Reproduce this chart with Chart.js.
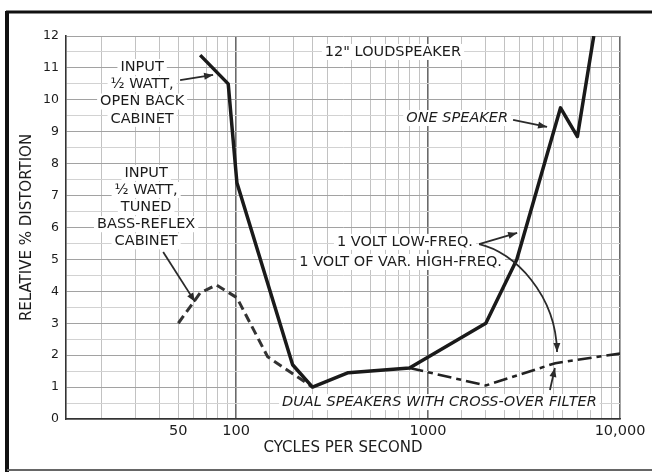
<!DOCTYPE html>
<html>
<head>
<meta charset="utf-8">
<script src="https://cdn.jsdelivr.net/npm/chart.js@4.4.0/dist/chart.umd.min.js"></script>
<style>
  html, body { margin: 0; padding: 0; background: #fff; }
</style>
</head>
<body>
<canvas id="myChart" width="652" height="472"></canvas>
<script>
// one speaker, 1/2 watt input, open back cabinet
var openBackHz  = [65, 91, 101, 197, 250, 384, 800, 2000, 2900, 4900, 6000, 7300];
var openBackPct = [11.4, 10.5, 7.4, 1.7, 1.0, 1.45, 1.6, 3.0, 5.0, 9.75, 8.85, 12];
// 1/2 watt input, tuned bass-reflex cabinet
var reflexHz  = [50, 65, 79, 101, 146, 250];
var reflexPct = [3.0, 3.95, 4.2, 3.8, 1.95, 1.0];
// dual speakers with cross-over filter
var dualHz  = [800, 2000, 4600, 10000];
var dualPct = [1.6, 1.05, 1.75, 2.05];

// graph paper lines and labelled ticks
var gridHz = [20, 30, 40, 50, 60, 70, 80, 90, 100, 150, 200, 250, 300, 400, 500, 600, 700, 800, 900,
              1000, 1500, 2000, 2500, 3000, 3500, 4000, 4500, 5000, 6000, 7000, 8000, 9000, 10000];
var decadeHz = [100, 1000, 10000];
var xTickHz = [50, 100, 1000, 10000];
var xTickLabels = ['50', '100', '1000', '10,000'];

var FONT = '"DejaVu Sans", sans-serif';
var INK = '#1c1c1c';

function pts(xs, ys) {
  return xs.map(function (x, i) { return { x: x, y: ys[i] }; });
}

function label(ctx, text, x, y, align, font) {
  ctx.font = font;
  var w = ctx.measureText(text).width;
  var x0 = align === 'left' ? x : (align === 'right' ? x - w : x - w / 2);
  ctx.fillStyle = '#fff';
  ctx.fillRect(x0 - 3, y - 8, w + 6, 16);
  ctx.fillStyle = INK;
  ctx.textAlign = 'left';
  ctx.textBaseline = 'middle';
  ctx.fillText(text, x0, y);
}

function head(ctx, fx, fy, tx, ty) {
  var a = Math.atan2(ty - fy, tx - fx);
  ctx.beginPath();
  ctx.moveTo(tx, ty);
  ctx.lineTo(tx - 9 * Math.cos(a) + 3.5 * Math.sin(a), ty - 9 * Math.sin(a) - 3.5 * Math.cos(a));
  ctx.lineTo(tx - 9 * Math.cos(a) - 3.5 * Math.sin(a), ty - 9 * Math.sin(a) + 3.5 * Math.cos(a));
  ctx.closePath();
  ctx.fill();
}

var notes = {
  id: 'notes',
  beforeDraw: function (chart) {
    var ctx = chart.ctx;
    ctx.save();
    ctx.fillStyle = '#fff';
    ctx.fillRect(0, 0, chart.width, chart.height);
    ctx.restore();
  },
  beforeDatasetsDraw: function (chart) {
    var ctx = chart.ctx, xs = chart.scales.x, ys = chart.scales.y;
    var X = function (v) { return xs.getPixelForValue(v); };
    var Y = function (v) { return ys.getPixelForValue(v); };
    var up = '14.5px ' + FONT, it = 'italic 14.5px ' + FONT;
    ctx.save();
    label(ctx, '12" LOUDSPEAKER', X(290), Y(11.5), 'left', up);

    var a = ['INPUT', '\u00BD WATT,', 'OPEN BACK', 'CABINET'];
    a.forEach(function (t, i) { label(ctx, t, X(32.4), Y(11.03) + i * 17.3, 'center', up); });
    var b = ['INPUT', '\u00BD WATT,', 'TUNED', 'BASS-REFLEX', 'CABINET'];
    b.forEach(function (t, i) { label(ctx, t, X(34), Y(7.71) + i * 17.1, 'center', up); });

    label(ctx, 'ONE SPEAKER', X(2611), Y(9.43), 'right', it);
    label(ctx, '1 VOLT LOW-FREQ.', X(1714), Y(5.55), 'right', up);
    label(ctx, '1 VOLT OF VAR. HIGH-FREQ.', X(2427), Y(4.92), 'right', up);
    label(ctx, 'DUAL SPEAKERS WITH CROSS-OVER FILTER', X(173.6), Y(0.53), 'left', it);
    ctx.restore();
  },
  afterDatasetsDraw: function (chart) {
    var ctx = chart.ctx, xs = chart.scales.x, ys = chart.scales.y;
    var X = function (v) { return xs.getPixelForValue(v); };
    var Y = function (v) { return ys.getPixelForValue(v); };
    ctx.save();
    ctx.strokeStyle = '#2a2a2a';
    ctx.fillStyle = '#2a2a2a';
    ctx.lineWidth = 1.8;
    var arrows = [
      [51.1, 10.62, 75.9, 10.78],
      [41.7, 5.23, 61.1, 3.67],
      [2773, 9.37, 4170, 9.15],
      [1845, 5.48, 2912, 5.83],
      [4315, 0.91, 4580, 1.60]
    ];
    arrows.forEach(function (r) {
      var fx = X(r[0]), fy = Y(r[1]), tx = X(r[2]), ty = Y(r[3]);
      ctx.beginPath();
      ctx.moveTo(fx, fy);
      ctx.lineTo(tx, ty);
      ctx.stroke();
      head(ctx, fx, fy, tx, ty);
    });
    // curved arrow down to the cross-over curve
    var c2x = X(4640), c2y = Y(3.88), tx = X(4700), ty = Y(2.10);
    ctx.beginPath();
    ctx.moveTo(X(1845), Y(5.48));
    ctx.bezierCurveTo(X(2838), Y(5.23), c2x, c2y, tx, ty);
    ctx.stroke();
    head(ctx, c2x, c2y, tx, ty);
    ctx.restore();
  },
  afterDraw: function (chart) {
    var ctx = chart.ctx;
    ctx.save();
    ctx.strokeStyle = '#111';
    ctx.lineWidth = 3;
    ctx.beginPath();
    ctx.moveTo(6, 12); ctx.lineTo(chart.width, 12);
    ctx.stroke();
    ctx.lineWidth = 4;
    ctx.beginPath();
    ctx.moveTo(7, 11); ctx.lineTo(7, chart.height);
    ctx.stroke();
    ctx.strokeStyle = '#666';
    ctx.lineWidth = 2;
    ctx.beginPath();
    ctx.moveTo(7, 470); ctx.lineTo(chart.width, 470);
    ctx.stroke();
    ctx.restore();
  }
};

var ctx = document.getElementById('myChart');

new Chart(ctx, {
  type: 'line',
  data: {
    datasets: [{
      label: 'One speaker, open back cabinet',
      data: pts(openBackHz, openBackPct),
      borderColor: '#1a1a1a',
      borderWidth: 3.5,
      borderJoinStyle: 'round'
    }, {
      label: 'Tuned bass-reflex cabinet',
      data: pts(reflexHz, reflexPct),
      borderColor: '#333',
      borderWidth: 3,
      borderDash: [9, 5]
    }, {
      label: 'Dual speakers with cross-over filter',
      data: pts(dualHz, dualPct),
      borderColor: '#222',
      borderWidth: 2.6,
      borderDash: [14, 5, 5, 5]
    }]
  },
  options: {
    responsive: false,
    animation: false,
    elements: { point: { radius: 0 }, line: { tension: 0 } },
    layout: { padding: { top: 36, right: 32, bottom: 0, left: 0 } },
    plugins: { legend: { display: false }, tooltip: { enabled: false } },
    scales: {
      x: {
        type: 'logarithmic',
        min: 13,
        max: 10000,
        afterBuildTicks: function (s) {
          s.ticks = gridHz.map(function (v) { return { value: v }; });
        },
        afterFit: function (s) { s.height = 53; },
        ticks: {
          autoSkip: false,
          maxRotation: 0,
          padding: 4,
          color: INK,
          font: { family: FONT, size: 14.5 },
          callback: function (v) {
            var i = xTickHz.indexOf(v);
            return i < 0 ? '' : xTickLabels[i];
          }
        },
        grid: {
          drawTicks: false,
          color: function (c) { return decadeHz.indexOf(c.tick.value) >= 0 ? '#6a6a6a' : '#c2c2c2'; },
          lineWidth: function (c) { return decadeHz.indexOf(c.tick.value) >= 0 ? 1.6 : 1; }
        },
        border: { color: '#333', width: 1.6 },
        title: {
          display: true,
          text: 'CYCLES PER SECOND',
          color: INK,
          font: { family: FONT, size: 15 },
          padding: { top: 0, bottom: 15 }
        }
      },
      y: {
        min: 0,
        max: 12,
        afterFit: function (s) { s.width = 66; },
        ticks: {
          stepSize: 0.5,
          autoSkip: false,
          padding: 7,
          color: INK,
          font: { family: FONT, size: 12.5 },
          callback: function (v) { return Number.isInteger(v) ? String(v) : ''; }
        },
        grid: {
          drawTicks: false,
          color: function (c) { return Number.isInteger(c.tick.value) ? '#a2a2a2' : '#d2d2d2'; }
        },
        border: { color: '#333', width: 1.6 },
        title: {
          display: true,
          text: 'RELATIVE % DISTORTION',
          color: INK,
          font: { family: FONT, size: 15 },
          padding: { top: 18.5, bottom: 0 }
        }
      }
    }
  },
  plugins: [notes]
});
</script>
</body>
</html>
